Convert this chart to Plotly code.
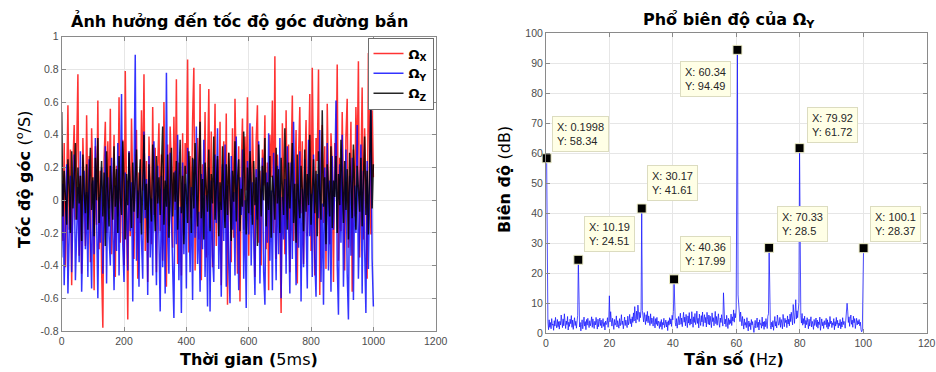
import plotly.graph_objects as go

# ---------------- data: left chart (angular rate, sampled every 4 steps of 5 ms) ----------------
SAMPLE_STEP = 4
OMEGA_X = [
    0.12, -0.25, 0.35, -0.41, 0.08, 0.58, -0.18, 0.31, -0.52, 0.22, 0.46, -0.12, 0.29, 0.77, -0.34, 0.15, -0.45, 0.38, 0.05, -0.28,
    0.52, -0.08, 0.27, -0.38, 0.44, 0.10, -0.55, 0.33, -0.15, 0.61, -0.30, 0.18, -0.42, -0.78, 0.25, 0.48, -0.20, 0.36, -0.05, 0.56,
    -0.33, 0.14, 0.40, -0.47, 0.21, -0.10, 0.63, -0.26, 0.09, 0.37, -0.40, 0.79, 0.02, -0.73, 0.30, -0.22, 0.50, 0.11, -0.36, 0.26,
    0.43, -0.48, 0.17, -0.14, 0.55, 0.06, 0.77, -0.31, 0.24, -0.50, 0.39, 0.13, -0.27, 0.57, -0.09, 0.32, -0.44, 0.20, 0.47, -0.19,
    0.28, -0.37, 0.60, 0.04, -0.53, 0.34, -0.16, 0.45, 0.19, -0.29, 0.51, -0.06, 0.74, -0.39, 0.23, 0.07, -0.46, 0.41, -0.21, 0.35,
    0.16, 0.86, -0.32, 0.27, -0.11, 0.49, 0.81, -0.43, 0.13, 0.38, -0.24, 0.71, -0.49, 0.22, 0.03, 0.54, -0.35, 0.30, 0.68, -0.17,
    0.42, -0.41, 0.11, 0.59, -0.28, 0.25, -0.07, 0.48, -0.52, 0.19, 0.36, -0.13, 0.53, -0.64, 0.29, 0.08, -0.38, 0.44, -0.23, 0.62,
    0.15, -0.45, 0.33, -0.62, 0.21, 0.50, -0.18, 0.39, 0.06, 0.63, -0.34, 0.26, -0.09, 0.45, 0.12, -0.47, 0.37, 0.58, -0.26, 0.18,
    -0.40, 0.31, 0.09, 0.52, -0.30, 0.23, -0.55, 0.40, 0.14, 0.61, -0.20, 0.88, -0.36, 0.28, 0.05, -0.15, -0.69, 0.47, 0.17, -0.33,
    0.55, -0.12, 0.34, -0.44, 0.20, 0.64, -0.25, 0.10, 0.43, -0.51, 0.27, 0.57, -0.08, 0.36, -0.39, 0.16, 0.49, -0.22, 0.30, 0.65,
    -0.31, 0.81, 0.13, -0.46, 0.38, 0.24, 0.80, -0.58, 0.19, 0.46, -0.14, 0.33, -0.42, 0.59, 0.07, -0.27, 0.41, 0.22, -0.50, 0.35,
    0.11, 0.83, -0.37, 0.26, -0.19, 0.54, 0.04, -0.43, 0.39, 0.62, -0.29, 0.15, 0.48, -0.56, 0.31, -0.10, 0.57, 0.20, 0.85, -0.35,
    0.28, 0.69, -0.24, 0.44, 0.09, -0.48, 0.90, 0.37, -0.21, 0.55, 0.14,
]
OMEGA_Y = [
    -0.35, 0.10, -0.52, -0.05, 0.22, -0.57, -0.18, 0.15, -0.44, -0.02, 0.28, -0.49, -0.12, 0.08, -0.38, 0.30, -0.56, -0.09, 0.18, -0.30,
    0.05, -0.47, 0.25, -0.20, -0.54, 0.12, -0.33, 0.38, -0.15, -0.60, 0.02, -0.26, 0.20, -0.45, -0.08, 0.33, -0.51, 0.14, -0.22, -0.40,
    0.26, -0.13, -0.55, 0.09, -0.31, 0.35, -0.46, 0.04, 0.65, -0.28, -0.50, 0.17, -0.06, -0.43, 0.30, -0.19, 0.11, -0.62, 0.24, 0.89,
    -0.37, 0.06, -0.53, 0.19, -0.24, -0.48, 0.42, -0.11, 0.13, -0.58, 0.27, -0.35, 0.01, -0.46, 0.36, -0.16, -0.52, 0.21, -0.29, -0.68,
    0.15, -0.41, 0.07, -0.57, 0.78, -0.20, -0.45, 0.29, -0.10, -0.36, -0.72, 0.18, -0.27, 0.40, -0.49, -0.04, -0.69, 0.23, -0.33, 0.10,
    -0.54, 0.32, -0.17, -0.44, 0.08, -0.61, 0.25, -0.23, 0.45, -0.39, -0.07, -0.56, 0.16, -0.30, 0.37, -0.47, 0.03, -0.65, 0.20, -0.68,
    0.12, -0.34, -0.50, 0.28, -0.14, 0.44, -0.42, -0.01, -0.59, 0.22, -0.25, 0.34, -0.53, 0.09, -0.38, -0.63, 0.27, -0.18, 0.05, -0.46,
    0.39, -0.28, -0.55, 0.14, -0.09, 0.31, -0.48, 0.00, -0.66, 0.24, -0.21, 0.47, -0.40, 0.11, -0.32, -0.58, 0.19, -0.12, 0.36, -0.51,
    -0.03, 0.26, -0.44, -0.64, 0.17, -0.26, 0.41, -0.37, 0.06, -0.55, 0.29, -0.15, -0.49, 0.21, -0.33, 0.38, -0.60, 0.02, -0.24, 0.13,
    -0.45, 0.33, -0.08, -0.57, 0.23, -0.36, 0.48, -0.19, -0.52, 0.10, -0.29, 0.30, -0.62, 0.07, -0.41, 0.25, -0.13, -0.54, 0.37, -0.22,
    0.04, -0.47, 0.28, -0.35, -0.59, 0.16, -0.11, 0.43, -0.50, -0.02, -0.64, 0.20, -0.31, 0.35, -0.43, 0.12, -0.56, 0.27, -0.18, 0.08,
    0.61, -0.39, -0.70, 0.22, -0.26, 0.40, -0.53, -0.06, 0.31, -0.45, -0.73, 0.15, -0.34, 0.26, -0.61, 0.09, -0.20, 0.46, -0.48, -0.14,
    0.34, -0.57, 0.18, -0.30, -0.69, 0.24, -0.42, 0.05, 0.58, -0.36, -0.65,
]
OMEGA_Z = [
    0.54, -0.10, 0.18, 0.02, -0.15, 0.25, 0.08, -0.20, 0.30, -0.05, 0.12, 0.35, -0.12, 0.20, -0.02, 0.15, -0.25, 0.28, 0.05, -0.08,
    0.22, -0.18, 0.10, 0.32, -0.06, 0.14, -0.22, 0.26, 0.00, 0.38, -0.14, 0.09, 0.24, -0.10, 0.17, -0.28, 0.30, 0.04, -0.16, 0.21,
    0.06, -0.12, 0.33, -0.04, 0.19, -0.20, 0.27, 0.01, -0.09, 0.36, 0.11, -0.24, 0.16, -0.03, 0.29, 0.07, -0.17, 0.23, -0.07, 0.13,
    0.31, -0.11, 0.03, 0.25, -0.21, 0.18, 0.40, -0.06, 0.10, -0.26, 0.22, 0.02, -0.13, 0.34, 0.08, -0.19, 0.27, -0.02, 0.14, -0.09,
    0.20, 0.45, -0.15, 0.12, -0.04, 0.28, -0.23, 0.06, 0.32, -0.10, 0.17, -0.01, 0.24, -0.18, 0.09, 0.37, -0.08, 0.15, -0.27, 0.21,
    0.04, -0.14, 0.30, 0.10, -0.20, 0.26, -0.05, 0.35, 0.01, -0.16, 0.19, 0.48, -0.11, 0.13, -0.24, 0.23, 0.07, -0.07, 0.31, -0.19,
    0.16, -0.02, 0.39, -0.12, 0.08, 0.27, -0.22, 0.11, -0.06, 0.33, 0.03, -0.17, 0.22, -0.09, 0.29, 0.05, -0.25, 0.18, -0.01, 0.36,
    -0.13, 0.12, 0.25, -0.19, 0.07, -0.04, 0.42, 0.09, -0.21, 0.20, -0.08, 0.30, 0.02, -0.15, 0.24, -0.03, 0.14, -0.28, 0.34, 0.06,
    -0.10, 0.21, 0.00, 0.38, -0.16, 0.11, -0.06, 0.27, -0.23, 0.15, 0.05, -0.12, 0.32, -0.02, 0.19, -0.20, 0.26, 0.08, -0.09, 0.44,
    0.03, -0.18, 0.23, -0.05, 0.13, 0.35, -0.14, 0.10, -0.26, 0.28, 0.01, -0.11, 0.21, 0.06, -0.19, 0.31, -0.07, 0.16, -0.03, 0.40,
    -0.15, 0.09, 0.25, -0.08, 0.18, -0.22, 0.30, 0.04, -0.12, 0.55, -0.04, 0.14, -0.27, 0.22, 0.07, -0.10, 0.33, -0.17, 0.12, 0.02,
    0.27, -0.20, 0.16, -0.03, 0.37, 0.08, -0.14, 0.24, -0.06, 0.19, -0.24, 0.29, 0.05, -0.11, 0.34, 0.00, -0.18, 0.21, 0.10, -0.07,
    0.26, -0.16, 0.13, 0.39, -0.09, 0.18, -0.21, 0.31, 0.60, -0.05, 0.22,
]
SERIES_NAMES = ["<b>Ω<sub>X</sub></b>", "<b>Ω<sub>Y</sub></b>", "<b>Ω<sub>Z</sub></b>"]

LEFT_X_TICKS = [0, 200, 400, 600, 800, 1000, 1200]
LEFT_Y_TICKS = [-0.8, -0.6, -0.4, -0.2, 0, 0.2, 0.4, 0.6, 0.8, 1]
LEFT_Y_LABELS = ["-0.8", "-0.6", "-0.4", "-0.2", "0", "0.2", "0.4", "0.6", "0.8", "1"]

# ---------------- data: right chart (amplitude spectrum of Omega_Y, bins 1..501) ----------------
FREQ_STEP = 0.1998
SPECTRUM_DB = [
    58.34, 5.1, 3.8, 1.2, 4.5, 2.0, 3.6, 1.5, 4.9, 2.7, 3.1, 1.0, 4.2, 2.4, 5.3, 3.0, 1.8, 4.6, 2.2, 3.9, 1.4, 4.0, 2.8, 6.1, 3.3,
    1.9, 4.8, 2.5, 6.5, 3.4, 1.6, 4.1, 2.9, 5.6, 1.1, 3.7, 2.3, 4.7, 3.2, 5.9, 2.0, 4.4, 1.3, 3.5, 5.2, 2.6, 4.0, 1.7, 3.8, 6.0,
    24.51, 4.3, 2.1, 3.6, 0.8, 2.9, 4.5, 1.5, 3.2, 5.4, 2.4, 3.9, 1.2, 4.6, 2.7, 5.0, 3.3, 1.9, 4.2, 2.5, 3.7, 5.5, 2.0, 4.8, 3.1,
    1.6, 4.0, 2.8, 5.3, 3.5, 1.4, 4.7, 2.2, 3.9, 5.1, 2.6, 4.4, 1.8, 3.3, 4.9, 2.3, 3.6, 1.1, 4.1, 2.9, 3.4, 5.2, 2.0, 4.3, 12.5,
    3.8, 7.2, 4.5, 2.4, 5.0, 3.1, 1.3, 4.6, 2.7, 3.5, 5.8, 2.1, 4.2, 3.0, 1.7, 4.9, 2.5, 3.7, 6.2, 2.9, 4.1, 1.5, 3.3, 5.4, 2.6,
    4.4, 3.0, 1.9, 5.7, 2.8, 4.0, 6.3, 3.2, 4.8, 2.2, 5.5, 3.6, 6.8, 4.1, 8.9, 5.0, 3.4, 7.4, 4.6, 9.4, 6.0, 3.9, 7.0, 5.2, 8.1,
    41.61, 7.6, 5.4, 3.8, 6.9, 4.5, 2.9, 6.2, 4.0, 7.3, 3.5, 5.8, 4.7, 2.6, 6.5, 3.2, 5.1, 4.3, 2.4, 5.6, 3.7, 1.8, 4.9, 3.0, 5.3,
    2.5, 4.1, 3.4, 1.6, 3.9, 2.2, 4.6, 1.3, 3.6, 2.8, 5.0, 1.9, 3.3, 4.4, 2.1, 3.8, 0.9, 4.2, 2.7, 5.2, 3.1, 4.8, 2.3, 6.0, 4.5,
    7.3, 17.99, 6.1, 3.5, 2.4, 4.9, 1.7, 3.2, 5.6, 2.8, 4.3, 6.7, 3.0, 5.1, 2.2, 4.6, 7.0, 3.7, 5.4, 2.5, 6.3, 4.0, 1.9, 5.8, 3.4,
    6.9, 2.7, 4.8, 3.1, 7.2, 4.4, 2.0, 5.5, 3.6, 6.6, 2.9, 4.2, 7.4, 3.3, 5.0, 1.8, 6.4, 4.1, 2.6, 5.9, 3.8, 7.1, 2.3, 4.7, 6.2,
    3.5, 5.3, 2.1, 7.0, 4.6, 3.0, 6.1, 2.8, 5.7, 4.0, 1.9, 6.8, 3.9, 5.2, 2.5, 4.4, 7.3, 3.2, 5.6, 2.7, 4.9, 6.5, 3.4, 2.0, 5.1,
    3.6, 6.2, 4.3, 2.4, 13.5, 5.8, 3.1, 4.7, 2.2, 6.0, 3.8, 1.6, 5.0, 2.9, 4.5, 3.3, 6.4, 2.6, 5.5, 4.1, 7.8, 3.7, 6.6, 5.2, 8.4,
    61.0, 94.49, 12.8, 10.5, 6.3, 3.9, 7.1, 4.4, 2.5, 5.6, 3.2, 1.4, 4.8, 2.7, 3.6, 1.9, 5.2, 3.0, 0.8, 4.1, 2.3, 3.5, 1.2, 4.6, 2.8,
    3.9, 1.5, 0.3, 2.6, 4.3, 1.8, 3.4, 5.1, 2.0, 3.7, 1.1, 4.5, 2.9, 3.3, 1.7, 5.4, 2.4, 3.8, 1.3, 4.0, 2.2, 4.9, 3.1, 1.6, 5.7,
    6.5, 28.5, 5.8, 2.6, 1.4, 3.7, 2.1, 4.2, 1.0, 3.5, 5.6, 2.4, 3.9, 1.8, 6.1, 4.5, 2.7, 3.2, 5.3, 2.0, 4.6, 3.4, 1.5, 6.3, 3.8,
    2.2, 5.0, 3.6, 4.4, 1.9, 5.8, 3.1, 4.7, 2.5, 6.4, 3.9, 7.0, 4.2, 2.8, 9.6, 5.5, 3.3, 6.9, 11.2, 4.8, 7.5, 5.2, 8.7, 10.3, 61.72,
    8.0, 5.9, 3.4, 6.6, 2.7, 4.9, 3.2, 5.7, 1.8, 4.3, 2.9, 5.2, 3.6, 1.5, 4.7, 2.4, 3.9, 5.5, 2.1, 4.0, 3.0, 1.3, 4.6, 2.6, 3.5,
    5.1, 2.2, 4.4, 1.7, 3.8, 2.9, 5.4, 1.0, 3.3, 4.8, 2.5, 3.7, 1.6, 4.2, 2.8, 3.1, 5.0, 2.0, 4.5, 1.4, 3.6, 2.3, 5.6, 3.2, 4.1,
    1.9, 3.5, 2.7, 4.9, 1.2, 3.9, 2.4, 5.3, 3.0, 4.3, 1.8, 3.4, 2.6, 4.6, 1.5, 3.8, 2.1, 5.2, 2.9, 4.0, 3.3, 1.7, 4.7, 6.8, 10.0,
    7.4, 3.6, 5.5, 2.3, 4.8, 6.1, 3.0, 4.4, 2.0, 5.7, 3.5, 4.9, 1.6, 3.9, 5.0, 2.8, 4.2, 3.1, 4.6, 2.5, 3.7, 1.2, 0.5, 1.0, 10.2,
    28.37,
]
TIP_BINS = [1, 51, 151, 202, 302, 352, 400, 501]

RIGHT_X_TICKS = [0, 20, 40, 60, 80, 100, 120]
RIGHT_Y_TICKS = [0, 10, 20, 30, 40, 50, 60, 70, 80, 90, 100]

# ---------------- styling (not data) ----------------
W, H = 936, 372
SERIES_COLORS = ["rgba(255,0,0,0.8)", "rgba(0,0,255,0.8)", "rgba(0,0,0,0.85)"]
# datatip box placement relative to its marker: (xanchor, yanchor, xshift px, yshift px)
TIP_PLACEMENT = [
    ("left", "bottom", 5, 6),
    ("left", "bottom", 6, 8),
    ("left", "bottom", 5, 7),
    ("left", "bottom", 6, 7),
    ("right", "top", -6, -11),
    ("left", "bottom", 8, 6),
    ("left", "bottom", 7, 5),
    ("left", "bottom", 6, 6),
]
TICK_FONT = dict(family="Liberation Sans, Arial, sans-serif", size=10.5, color="#4d4d4d")
LABEL_FONT = dict(family="DejaVu Sans, sans-serif", size=16, color="#000000")


def px_x(p):
    return p / W


def px_y(p):
    return 1 - p / H


fig = go.Figure()

for vals, name, color in zip([OMEGA_X, OMEGA_Y, OMEGA_Z], SERIES_NAMES, SERIES_COLORS):
    t = [SAMPLE_STEP * i for i in range(len(vals))]
    fig.add_trace(go.Scatter(
        x=t, y=vals, mode="lines", name=name,
        line=dict(color=color, width=1.5),
        xaxis="x", yaxis="y", showlegend=True,
    ))

freqs = [k * FREQ_STEP for k in range(1, len(SPECTRUM_DB) + 1)]
fig.add_trace(go.Scatter(
    x=freqs, y=SPECTRUM_DB, mode="lines",
    line=dict(color="rgba(20,20,255,0.75)", width=1),
    xaxis="x2", yaxis="y2", showlegend=False,
))

tip_x = [freqs[b - 1] for b in TIP_BINS]
tip_y = [SPECTRUM_DB[b - 1] for b in TIP_BINS]
fig.add_trace(go.Scatter(
    x=tip_x, y=tip_y, mode="markers",
    marker=dict(symbol="square", size=9, color="black", line=dict(color="#efefc8", width=1)),
    xaxis="x2", yaxis="y2", showlegend=False, cliponaxis=False,
))

annotations = []
for xv, yv, (xa, ya, xs, ys) in zip(tip_x, tip_y, TIP_PLACEMENT):
    annotations.append(dict(
        x=xv, y=yv, xref="x2", yref="y2", showarrow=False,
        text=f"X: {xv:.4g}<br>Y: {yv:.4g}", align="left",
        xanchor=xa, yanchor=ya, xshift=xs, yshift=ys,
        font=dict(family="Liberation Sans, Arial, sans-serif", size=11, color="#262626"),
        bgcolor="#ffffe6", bordercolor="#dcdcc0", borderwidth=1, borderpad=4,
    ))

# titles and axis labels
annotations += [
    dict(text="<b>Ảnh hưởng đến tốc độ góc đường bắn</b>", x=px_x(240), y=px_y(21),
         xref="paper", yref="paper", showarrow=False, font=LABEL_FONT, xanchor="center", yanchor="middle"),
    dict(text="<b>Phổ biên độ của Ω<sub>Y</sub></b>", x=px_x(729), y=px_y(21),
         xref="paper", yref="paper", showarrow=False, font=LABEL_FONT, xanchor="center", yanchor="middle"),
    dict(text="<b>Thời gian (</b>5ms<b>)</b>", x=px_x(249), y=px_y(359),
         xref="paper", yref="paper", showarrow=False, font=LABEL_FONT, xanchor="center", yanchor="middle"),
    dict(text="<b>Tần số (</b>Hz<b>)</b>", x=px_x(734), y=px_y(359),
         xref="paper", yref="paper", showarrow=False, font=LABEL_FONT, xanchor="center", yanchor="middle"),
    dict(text="<b>Tốc độ góc </b>(<sup>o</sup>/S)", x=px_x(23), y=px_y(180), textangle=-90,
         xref="paper", yref="paper", showarrow=False, font=LABEL_FONT, xanchor="center", yanchor="middle"),
    dict(text="<b>Biên độ </b>(dB)", x=px_x(504), y=px_y(180), textangle=-90,
         xref="paper", yref="paper", showarrow=False, font=LABEL_FONT, xanchor="center", yanchor="middle"),
]

axis_common = dict(
    showline=True, linecolor="#8a8a8a", linewidth=1, mirror="ticks",
    ticks="inside", ticklen=4, tickcolor="#8a8a8a",
    showgrid=True, gridcolor="#e6e6e6", gridwidth=1, zeroline=False,
    tickfont=TICK_FONT, automargin=False,
)

fig.update_layout(
    width=W, height=H,
    margin=dict(l=0, r=0, t=0, b=0, autoexpand=False),
    paper_bgcolor="white", plot_bgcolor="white",
    xaxis=dict(domain=[px_x(61.7), px_x(435.7)], range=[0, 1200], tickvals=LEFT_X_TICKS,
               anchor="y", **axis_common),
    yaxis=dict(domain=[px_y(331), px_y(36.7)], range=[-0.8, 1], tickvals=LEFT_Y_TICKS,
               ticktext=LEFT_Y_LABELS, anchor="x", **axis_common),
    xaxis2=dict(domain=[px_x(546), px_x(926.7)], range=[0, 120], tickvals=RIGHT_X_TICKS,
                anchor="y2", **axis_common),
    yaxis2=dict(domain=[px_y(333.3), px_y(33.3)], range=[0, 100], tickvals=RIGHT_Y_TICKS,
                anchor="x2", **axis_common),
    legend=dict(x=px_x(433.5), y=px_y(37.5), xanchor="right", yanchor="top",
                bgcolor="white", bordercolor="#6e6e6e", borderwidth=1,
                font=dict(family="DejaVu Sans, sans-serif", size=13, color="black"),
                tracegroupgap=0, itemwidth=30),
    annotations=annotations,
    showlegend=True,
)

fig.write_html(
    "out.html",
    config={"displayModeBar": False},
    post_script="document.body.style.margin='0';document.body.style.padding='0';"
                "document.body.style.overflow='hidden';",
)
